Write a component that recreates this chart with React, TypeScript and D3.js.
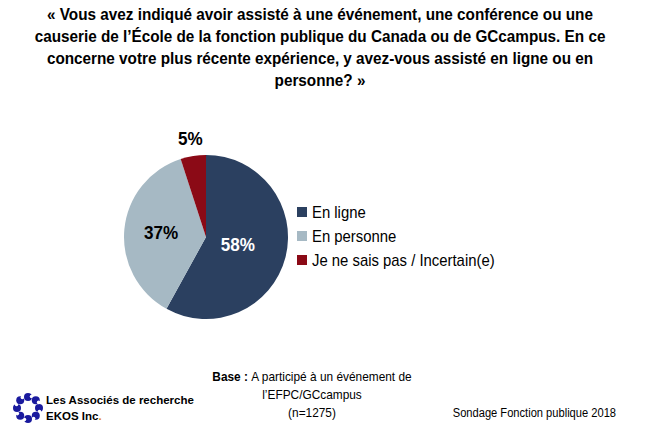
import { useEffect, useRef } from 'react';
import * as d3 from 'd3';

// données du graphique
const categories = ['En ligne', 'En personne', 'Je ne sais pas / Incertain(e)'];
const values = [58, 37, 5];
const colors = ['#2B4060', '#A6B9C4', '#8B0A16'];
const labelColors = ['#FFFFFF', '#000000', '#000000'];
const labelRadius = [0.4, 0.55, 1.22]; // fraction du rayon

const titleLines = [
  '« Vous avez indiqué avoir assisté à une événement, une conférence ou une',
  'causerie de l’École de la fonction publique du Canada ou de GCcampus. En ce',
  'concerne votre plus récente expérience, y avez-vous assisté en ligne ou en',
  'personne? »',
];

const FONT = '"Liberation Sans", Arial, sans-serif';

export default function App() {
  const svgRef = useRef<SVGSVGElement>(null);

  useEffect(() => {
    const svg = d3.select(svgRef.current);
    svg.selectAll('*').remove();
    const W = 650, H = 433;
    svg.attr('width', W).attr('height', H).style('font-family', FONT);

    svg.append('rect').attr('width', W).attr('height', H).attr('fill', '#fff');

    // ── titre (police étroite simulée) ────
    svg.append('g').attr('transform', 'translate(320,0) scale(0.9,1)')
      .selectAll('text').data(titleLines).join('text')
      .attr('x', 0).attr('y', (_, i) => 20 + i * 22)
      .attr('text-anchor', 'middle')
      .attr('font-size', '17px').attr('font-weight', 700).attr('fill', '#000')
      .text(d => d);

    // ── tarte ─────────────────────────────
    const cx = 206, cy = 237, r = 82;
    const pie = d3.pie<number>().sort(null).value(d => d);
    const arcs = pie(values);
    const arc = d3.arc<d3.PieArcDatum<number>>().innerRadius(0).outerRadius(r);
    const g = svg.append('g').attr('transform', `translate(${cx},${cy})`);
    g.selectAll('path').data(arcs).join('path')
      .attr('d', arc)
      .attr('fill', (_, i) => colors[i]);

    // étiquettes
    g.selectAll('text.lab').data(arcs).join('text')
      .attr('class', 'lab')
      .attr('transform', (d, i) => {
        const lr = r * labelRadius[i];
        const [x, y] = d3.arc<d3.PieArcDatum<number>>().innerRadius(lr).outerRadius(lr).centroid(d);
        return `translate(${x},${y}) scale(0.95,1)`;
      })
      .attr('text-anchor', 'middle').attr('dy', '0.35em')
      .attr('font-size', '18px').attr('font-weight', 700)
      .attr('fill', (_, i) => labelColors[i])
      .text(d => `${d.data}%`);

    // ── légende ───────────────────────────
    const lg = svg.append('g').attr('transform', 'translate(297,212)');
    const row = lg.selectAll('g').data(categories).join('g')
      .attr('transform', (_, i) => `translate(0,${i * 24})`);
    row.append('rect').attr('x', 0).attr('y', -5).attr('width', 10).attr('height', 10)
      .attr('fill', (_, i) => colors[i]);
    row.append('text').attr('transform', 'translate(15,0) scale(0.93,1)').attr('dy', '0.35em')
      .attr('font-size', '16px').attr('fill', '#000')
      .text(d => d);

    // ── pied de page ──────────────────────
    const foot = svg.append('g').attr('transform', 'translate(312,0) scale(0.95,1)');
    const base = foot.append('text').attr('x', 0).attr('y', 381)
      .attr('text-anchor', 'middle').attr('font-size', '12.5px').attr('fill', '#000');
    base.append('tspan').attr('font-weight', 700).text('Base : ');
    base.append('tspan').text('A participé à un événement de');
    foot.append('text').attr('x', 0).attr('y', 399).attr('text-anchor', 'middle')
      .attr('font-size', '12.5px').text('l’EFPC/GCcampus');
    foot.append('text').attr('x', 0).attr('y', 417).attr('text-anchor', 'middle')
      .attr('font-size', '12.5px').text('(n=1275)');
    svg.append('g').attr('transform', 'translate(616,417) scale(0.89,1)')
      .append('text').attr('text-anchor', 'end')
      .attr('font-size', '12.5px').text('Sondage Fonction publique 2018');

    // logo EKOS
    const logo = svg.append('g').attr('transform', 'translate(28,408)');
    d3.range(8).forEach(k => {
      const a = (k / 8) * Math.PI * 2;
      logo.append('circle')
        .attr('cx', 11 * Math.cos(a)).attr('cy', 11 * Math.sin(a))
        .attr('r', 4).attr('fill', '#1A1A9E');
      logo.append('circle')
        .attr('cx', 12 * Math.cos(a + 0.3)).attr('cy', 12 * Math.sin(a + 0.3))
        .attr('r', 1.8).attr('fill', '#fff');
    });
    svg.append('text').attr('x', 46).attr('y', 404)
      .attr('font-size', '11.5px').attr('font-weight', 700)
      .text('Les Associés de recherche');
    const t2 = svg.append('text').attr('x', 46).attr('y', 420)
      .attr('font-size', '11.5px').attr('font-weight', 700);
    t2.append('tspan').text('EKOS Inc');
    t2.append('tspan').attr('fill', '#E88A1A').text('.');
  }, []);

  return <svg ref={svgRef} style={{ display: 'block', position: 'absolute', left: 0, top: 0 }} />;
}
